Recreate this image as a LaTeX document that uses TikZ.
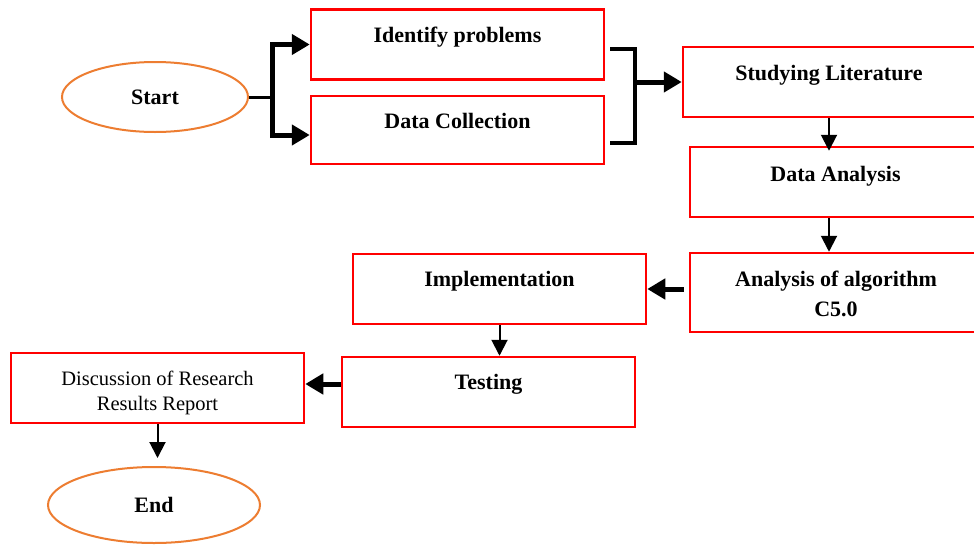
\documentclass[tikz,border=0pt]{standalone}
\usepackage{fontspec}
\setmainfont{Liberation Serif}
\usetikzlibrary{shapes.geometric,arrows.meta}
\definecolor{boxred}{RGB}{255,0,0}
\definecolor{ovalorange}{RGB}{237,125,49}
\tikzset{
  box/.style={rectangle, draw=boxred, line width=2.5pt, minimum width=293pt, minimum height=70pt, inner sep=0pt},
  txt/.style={font=\bfseries\fontsize{22}{29.3}\selectfont, inner sep=0pt},
  onel/.style={txt, text height=15pt, text depth=5pt},
  smalltxt/.style={font=\fontsize{20.5}{25}\selectfont, inner sep=0pt, align=center},
  oval/.style={ellipse, draw=ovalorange, line width=2pt, inner sep=0pt, font=\bfseries\fontsize{22}{26}\selectfont},
  thickarrow/.style={line width=5pt, line join=miter, -{Triangle[length=18pt,width=20pt]}},
  thinarrow/.style={line width=2pt, -{Triangle[length=16pt,width=16pt]}},
  link/.style={line width=4pt, line join=miter}
}
\begin{document}
\begin{tikzpicture}[x=1pt,y=-1pt]
\clip (0,0) rectangle (974,544);
\fill[white] (0,0) rectangle (974,544);

% ovals
\node[oval, minimum width=186pt, minimum height=70pt] (start) at (155,97) {Start};
\node[oval, minimum width=212pt, minimum height=76pt] (end) at (154,505) {End};

% boxes
\node[box, label={[onel,yshift=6.8pt]center:Identify problems}] (idp) at (457.5,44.5) {};
\node[box, minimum height=68pt, label={[onel,yshift=6.3pt]center:Data Collection}] (dc) at (457.5,130) {};
\node[box, minimum width=292pt, label={[onel,yshift=6.6pt]center:Studying Literature}] (sl) at (829,82) {};
\node[box, minimum width=291pt, label={[onel,yshift=5.6pt]center:Data Analysis}] (da) at (835.5,182) {};
\node[box, minimum width=292pt, minimum height=79pt, label={[txt,align=center,yshift=-1.4pt]center:Analysis of algorithm\\C5.0}] (aa) at (836,292.5) {};
\node[box, label={[onel,yshift=7.6pt]center:Implementation}] (im) at (499.5,289) {};
\node[box, label={[onel,yshift=7.3pt]center:Testing}] (te) at (488.5,392) {};
\node[box, label={[smalltxt,yshift=-5.4pt]center:Discussion of Research\\Results Report}] (dr) at (157.5,388) {};

% start fork
\coordinate (fork) at (272,97);
\draw[line width=3pt] (start.east) -- (fork);
\draw[thickarrow] (fork) |- (idp.west);
\draw[thickarrow] (fork) |- ([yshift=-5pt]dc.west);

% bracket
\coordinate (bt) at (610,49);
\coordinate (btc) at (635,49);
\coordinate (bbc) at (635,143);
\coordinate (bb) at (610,143);
\coordinate (bm) at (635,82);
\draw[link] (bt) -- (btc) -- (bbc) -- (bb);
\draw[thickarrow] (bm) -- (sl.west);

% right column
\draw[thinarrow] (sl.south) -- ([yshift=-5pt]sl.south |- da.north);
\draw[thinarrow] (sl.south |- da.south) -- (sl.south |- aa.north);
\draw[thickarrow] ([xshift=-5pt]aa.west |- im.east) -- (im.east);
\draw[thinarrow] (im.south) -- (im.south |- te.north);
\draw[thickarrow] ([yshift=4pt]dr.east -| te.west) -- ([yshift=4pt]dr.east);
\draw[thinarrow, shorten >=8pt] (dr.south) -- (dr.south |- end.north);
\end{tikzpicture}
\end{document}
